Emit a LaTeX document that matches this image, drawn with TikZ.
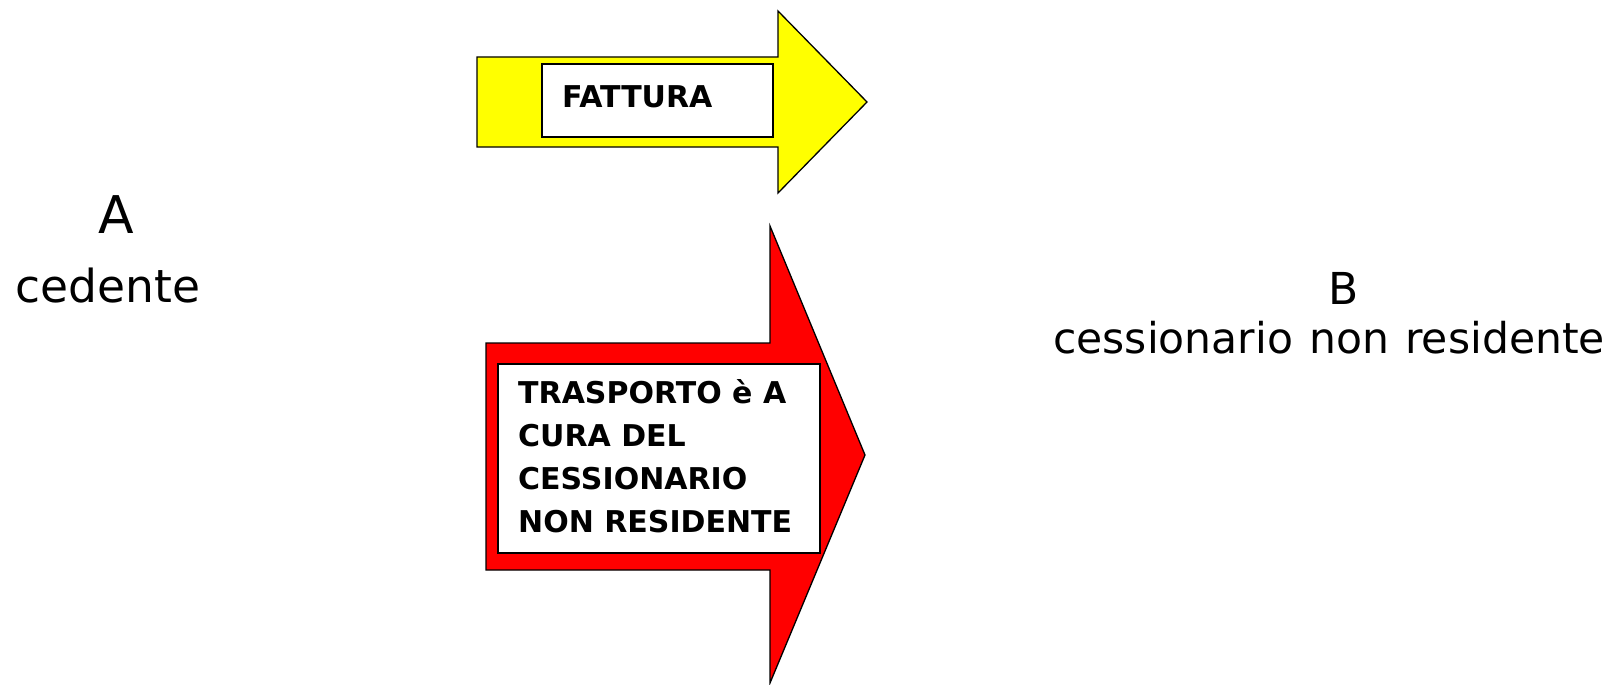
\documentclass[tikz,border=0pt]{standalone}
\usepackage{fontspec}
\setmainfont{DejaVu Sans}
\newfontfamily\boxfont{DejaVu Sans}[BoldFont={DejaVu Sans Bold}]
\definecolor{arrowyellow}{HTML}{FFFF00}
\definecolor{arrowred}{HTML}{FF0000}
\begin{document}
\begin{tikzpicture}[x=1pt,y=-1pt,
  arrowshape/.style={draw=black,line width=1.3pt,line join=miter},
  whitebox/.style={draw=black,fill=white,line width=1.3pt},
  boxtext/.style={inner sep=0pt,anchor=base west,font=\boxfont\bfseries\fontsize{30}{43}\selectfont},
  bigtext/.style={inner sep=0pt,anchor=base}]
\useasboundingbox (0,0) rectangle (1609,685);
% yellow arrow
\draw[arrowshape,fill=arrowyellow] (477,57) -- (778,57) -- (778,11) -- (867,102) -- (778,193) -- (778,147) -- (477,147) -- cycle;
\draw[whitebox] (542,64) rectangle (773,137);
\node[boxtext] (fattura) at (562,107) {FATTURA};
% red arrow
\draw[arrowshape,fill=arrowred] (486,343) -- (770,343) -- (770,226) -- (865,455) -- (770,683) -- (770,570) -- (486,570) -- cycle;
\draw[whitebox] (498,364) rectangle (820,553);
\node[boxtext] (trasporto) at (518,403) {\vtop{\baselineskip=43pt\hbox{TRASPORTO è A}\hbox{CURA DEL}\hbox{CESSIONARIO}\hbox{NON RESIDENTE}}};
% labels
\node[bigtext,font=\fontsize{52}{60}\selectfont] (A) at (116,233) {A};
\node[bigtext,font=\fontsize{45.5}{54}\selectfont] (cedente) at (108,302) {cedente};
\node[bigtext,font=\fontsize{44}{52}\selectfont] (B) at (1343.5,304) {B};
\node[bigtext,font=\fontsize{42.5}{52}\selectfont] (cess) at (1329,353) {cessionario\hspace{0.38em}non\hspace{0.38em}residente};
\end{tikzpicture}
\end{document}
